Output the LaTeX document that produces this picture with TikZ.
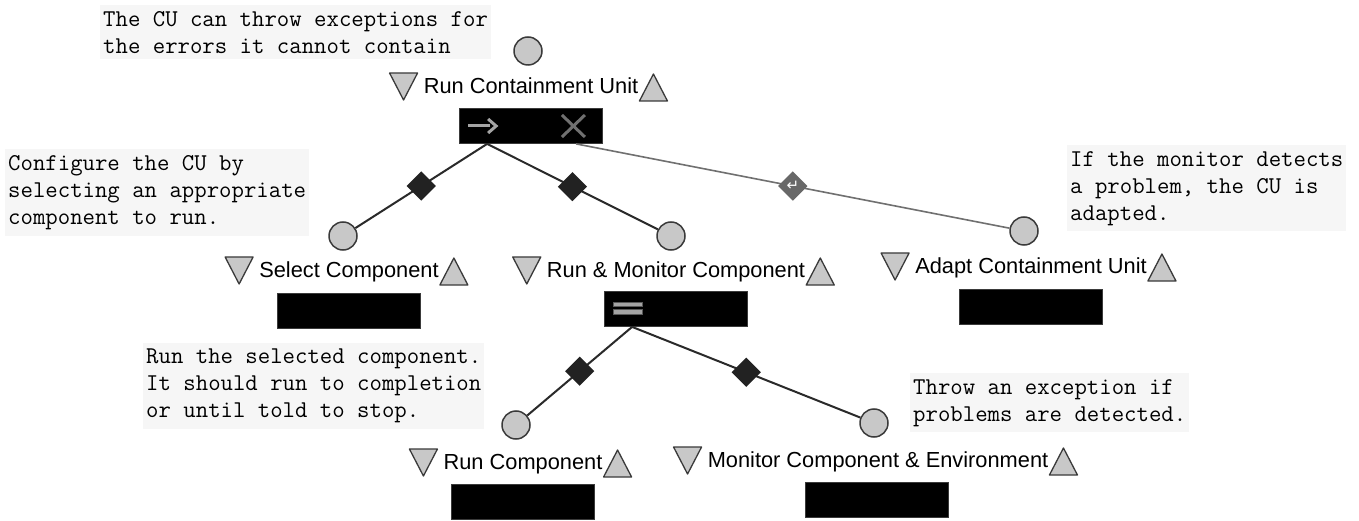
\documentclass[tikz,border=0pt]{standalone}
\usepackage{fontspec}
\setmainfont{Liberation Sans}
\newfontfamily\symfnt{DejaVu Sans}
\usetikzlibrary{shapes.geometric,calc}
\definecolor{cbg}{HTML}{F6F6F6}
\definecolor{tfill}{HTML}{C8C8C8}
\definecolor{tdraw}{HTML}{3A3A3A}
\definecolor{linec}{HTML}{2A2A2A}
\definecolor{glinec}{HTML}{707070}
\definecolor{diac}{HTML}{222222}
\definecolor{gdiac}{HTML}{686868}
\definecolor{iconc}{HTML}{A4A4A4}
\definecolor{xc}{HTML}{707070}
\newcommand\cmtfnt{\ttfamily\fontsize{24.1}{27}\selectfont}
\newcommand\lblfnt{\fontsize{21.8}{26}\selectfont}
\newcommand\dtri[1]{\draw[tri] ($(#1.west)+(-34,-15)$) -- ($(#1.west)+(-6,-15)$) -- ($(#1.west)+(-20,12)$) -- cycle;}
\newcommand\utri[1]{\draw[tri] ($(#1.east)+(1,13)$) -- ($(#1.east)+(29,13)$) -- ($(#1.east)+(15,-14)$) -- cycle;}
\tikzset{
  every node/.style={inner sep=0pt},
  comment/.style={fill=cbg, anchor=north west, align=left, inner xsep=3pt, inner ysep=6pt, font=\cmtfnt},
  lbl/.style={font=\lblfnt, text height=16pt, text depth=5pt},
  tri/.style={fill=tfill, draw=tdraw, line width=1.3pt, line join=round},
  bar/.style={fill=black, draw=tdraw, line width=0.8pt, minimum width=143pt, minimum height=35pt},
  circ/.style={circle, fill=tfill, draw=tdraw, line width=1.5pt, minimum size=28pt},
  conn/.style={draw=linec, line width=2pt},
  gconn/.style={draw=glinec, line width=1.6pt},
  dia/.style={diamond, fill=diac, minimum width=30pt, minimum height=30pt, aspect=1},
  gdia/.style={dia, fill=gdiac},
}
\begin{document}
\begin{tikzpicture}[x=1pt,y=-1pt]
\useasboundingbox[fill=white] (0,0) rectangle (1359,521);

% comments
\node[comment] (k0) at (100,5) {The CU can throw exceptions for\\the errors it cannot contain};
\node[comment] (k1) at (5,149) {Configure the CU by\\selecting an appropriate\\component to run.};
\node[comment] (k2) at (1067,145) {If the monitor detects\\a problem, the CU is\\adapted.};
\node[comment] (k3) at (143,343) {Run the selected component.\\It should run to completion\\or until told to stop.};
\node[comment] (k4) at (910,373) {Throw an exception if\\problems are detected.};

% root
\node[circ] (C0) at (528,51) {};
\node[lbl] (L0) at (531,88) {Run Containment Unit};
\dtri{L0}\utri{L0}
\node[bar] (B0) at (531,126) {};
\draw[iconc, line width=3pt] ($(B0.west)+(9,0)$) -- ($(B0.west)+(31,0)$);
\draw[iconc, line width=3pt, line join=miter] ($(B0.west)+(29,-7)$) -- ($(B0.west)+(37,0)$) -- ($(B0.west)+(29,7)$);
\draw[xc, line width=3pt] ($(B0.east)+(-41,-11)$) -- ($(B0.east)+(-18,11)$);
\draw[xc, line width=3pt] ($(B0.east)+(-41,11)$) -- ($(B0.east)+(-18,-11)$);
\coordinate (B0a) at ($(B0.south west)+(28,0)$);
\coordinate (B0b) at ($(B0.south west)+(117,0)$);

% level 2
\node[circ] (C1) at (343,236) {};
\node[lbl] (L1) at (349,272) {Select Component};
\dtri{L1}\utri{L1}
\node[bar] (B1) at (349,311) {};

\node[circ] (C2) at (671,236) {};
\node[lbl] (L2) at (676,272) {Run \& Monitor Component};
\dtri{L2}\utri{L2}
\node[bar] (B2) at (676,309) {};
\draw[draw=gray!70!black, fill=iconc, line width=0.6pt] ($(B2.west)+(9,-7)$) rectangle ($(B2.west)+(38,-2.5)$);
\draw[draw=gray!70!black, fill=iconc, line width=0.6pt] ($(B2.west)+(9,0.5)$) rectangle ($(B2.west)+(38,5)$);
\coordinate (B2a) at ($(B2.south west)+(28,0)$);

\node[circ] (C3) at (1024,231) {};
\node[lbl] (L3) at (1031,268) {Adapt Containment Unit};
\dtri{L3}\utri{L3}
\node[bar] (B3) at (1031,307) {};

% level 3
\node[circ] (C4) at (516,425) {};
\node[lbl] (L4) at (523,464) {Run Component};
\dtri{L4}\utri{L4}
\node[bar] (B4) at (523,502) {};

\node[circ] (C5) at (874,423) {};
\node[lbl] (L5) at (878,462) {Monitor Component \& Environment};
\dtri{L5}\utri{L5}
\node[bar] (B5) at (877,500) {};

% connectors
\draw[conn] (B0a) -- node[dia] (D1) {} (C1);
\draw[conn] (B0a) -- node[dia] (D2) {} (C2);
\draw[gconn] (B0b) -- node[gdia] (D3) {\color{white}\symfnt\fontsize{15}{15}\selectfont ↵} (C3);
\draw[conn] (B2a) -- node[dia] (D4) {} (C4);
\draw[conn] (B2a) -- node[dia] (D5) {} (C5);
\end{tikzpicture}
\end{document}
